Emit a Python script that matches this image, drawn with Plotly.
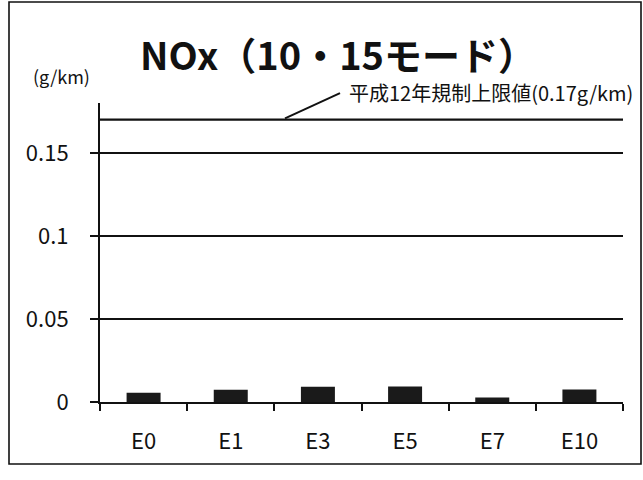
import plotly.graph_objects as go

# NOx emissions by ethanol blend (10・15 mode), g/km
categories = ["E0", "E1", "E3", "E5", "E7", "E10"]
nox_values = [0.0055, 0.0073, 0.0092, 0.0093, 0.0027, 0.0075]
limit_value = 0.17
y_ticks = [0, 0.05, 0.1, 0.15]
y_tick_labels = ["0", "0.05", "0.1", "0.15"]

W, H = 643, 480
x0_px, x1_px = 100, 623          # plot area, horizontal
y_bottom_px = 414                 # pixel row of y = 0
y_max = 0.18
px_per_unit = 85.5 / 0.05
y_top_px = y_bottom_px - y_max * px_per_unit

ink = "#111111"
font = "Noto Sans CJK JP"


def px(x):
    return x / W


def py(y):
    return 1 - y / H


fig = go.Figure()
fig.add_trace(go.Bar(
    x=categories, y=nox_values, width=0.39,
    marker=dict(color="#1a1a1a", line=dict(width=0)),
    hoverinfo="x+y",
))

fig.update_layout(
    width=W, height=H, autosize=False,
    margin=dict(l=0, r=0, t=0, b=0),
    paper_bgcolor="white", plot_bgcolor="white",
    showlegend=False,
    xaxis=dict(
        domain=[px(x0_px), px(x1_px)],
        type="category",
        showline=True, linecolor=ink, linewidth=2,
        ticks="outside", tickson="boundaries", ticklen=7, tickcolor=ink, tickwidth=2,
        showgrid=False,
        tickfont=dict(family=font, size=22, color=ink),
        ticklabelstandoff=19,
    ),
    yaxis=dict(
        domain=[py(y_bottom_px), py(y_top_px)],
        range=[0, y_max],
        tickvals=y_ticks, ticktext=y_tick_labels,
        showline=True, linecolor=ink, linewidth=2,
        ticks="outside", ticklen=8, tickcolor=ink, tickwidth=2,
        showgrid=True, gridcolor=ink, gridwidth=1.8,
        zeroline=False,
        tickfont=dict(family=font, size=22, color=ink),
        ticklabelstandoff=17,
    ),
)

# Regulatory limit line
fig.add_shape(type="line", xref="x domain", yref="y",
              x0=0, x1=1, y0=limit_value, y1=limit_value,
              line=dict(color=ink, width=2.2))

# Leader line from the limit line to its label
fig.add_shape(type="line", xref="paper", yref="paper",
              x0=px(285), y0=py(122), x1=px(340), y1=py(96),
              line=dict(color=ink, width=2))

# Outer frame
fig.add_shape(type="rect", xref="paper", yref="paper",
              x0=px(9), y0=py(478), x1=px(641), y1=py(2),
              line=dict(color=ink, width=1.6))

fig.add_annotation(text="<b>NOx（10・15モード）</b>", xref="paper", yref="paper",
                   x=px(338), y=py(55), showarrow=False,
                   font=dict(family=font, size=38, color=ink),
                   xanchor="center", yanchor="middle")
fig.add_annotation(text="(g/km)", xref="paper", yref="paper",
                   x=px(62), y=py(78), showarrow=False,
                   font=dict(family=font, size=18, color=ink),
                   xanchor="center", yanchor="middle")
fig.add_annotation(text="平成12年規制上限値(0.17g/km)", xref="paper", yref="paper",
                   x=px(347), y=py(95), showarrow=False,
                   font=dict(family=font, size=20, color=ink),
                   xanchor="left", yanchor="middle")

fig.write_html("out.html")
